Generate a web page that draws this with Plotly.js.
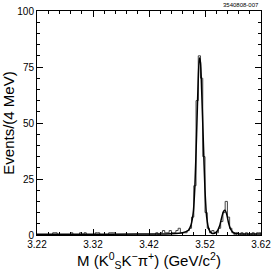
<!DOCTYPE html>
<html><head><meta charset="utf-8">
<script src="https://cdn.plot.ly/plotly-3.0.1.min.js"></script>
<style>html,body{margin:0;padding:0;background:#fff}#c{width:274px;height:274px}</style>
</head><body><div id="c"></div>
<script>
// Histogram: 4 MeV bins starting at 3.22 GeV
const binStart = 3.22;
const binWidth = 0.004;
const counts = [
 0,0,0,0,0,0,0,1,1,0,
 0,0,0,0,0,1,0,0,0,1,
 0,1,0,0,0,0,1,1,0,0,
 0,0,1,1,1,0,0,0,0,0,
 0,0,0,0,0,0,0,0,0,0,
 0,0,0,1,0,1,2,1,1,2,
 1,1,2,3,1,1,1,2,3,8,
 22,60,80,70,35,10,3,1,2,1,
 1,3,6,10,15,8,3,1,0,1,
 0,1,0,1,0,0,1,0,1,1
];
// Fit curve
const fitX = [3.22,3.30,3.40,3.46,3.48,3.49,3.495,3.499,3.502,3.505,3.508,3.510,3.512,3.514,3.517,3.520,3.523,3.527,3.532,3.537,3.542,3.546,3.550,3.553,3.556,3.559,3.562,3.566,3.571,3.58,3.60,3.62];
const fitY = [0.3,0.3,0.4,0.6,1.0,2.0,4.5,10,22,45,70,79,77,65,42,20,8,2.5,0.8,0.8,1.8,4,8,10.5,11,9,5.5,2.5,1,0.5,0.4,0.4];
const xTicks = [3.22,3.32,3.42,3.52,3.62];
const yTicks = [0,25,50,75,100];
const figLabel = "3540808-007";

const hx = [], hy = [];
hx.push(binStart); hy.push(0);
for (let i = 0; i < counts.length; i++) { hx.push(binStart + i*binWidth); hy.push(counts[i]); }
hx.push(binStart + counts.length*binWidth); hy.push(0);

const traces = [
 {x: hx, y: hy, type:'scatter', mode:'lines', line:{shape:'hv', color:'#444', width:1}, hoverinfo:'skip'},
 {x: fitX, y: fitY, type:'scatter', mode:'lines', line:{shape:'spline', smoothing:0.6, color:'#000', width:1.5}, hoverinfo:'skip'}
];
const font = {family:'Liberation Sans, Arial, sans-serif', color:'#000'};
const layout = {
 width:274, height:274,
 margin:{l:37, r:13, t:11, b:39},
 paper_bgcolor:'#fff', plot_bgcolor:'#fff',
 showlegend:false,
 font: Object.assign({size:10}, font),
 xaxis:{range:[3.22,3.62], tickvals:xTicks, ticktext:xTicks.map(v=>v.toFixed(2)),
   ticks:'inside', ticklen:6, tickcolor:'#000', tickwidth:1,
   showline:true, linecolor:'#000', linewidth:1, mirror:'allticks', showgrid:false, zeroline:false,
   minor:{ticks:'inside', dtick:0.02, tick0:3.22, ticklen:3, tickcolor:'#000', showgrid:false},
   tickfont:{size:10},
   title:{text:'M (K<sup>0</sup><sub>S</sub>K<sup>−</sup>π<sup>+</sup>) (GeV/c<sup>2</sup>)', font:{size:15}, standoff:3}},
 yaxis:{range:[0,100], tickvals:yTicks, ticks:'inside', ticklen:6, tickcolor:'#000', tickwidth:1,
   showline:true, linecolor:'#000', linewidth:1, mirror:'allticks', showgrid:false, zeroline:false,
   minor:{ticks:'inside', dtick:5, ticklen:3, tickcolor:'#000', showgrid:false},
   tickfont:{size:10},
   title:{text:'Events/(4 MeV)', font:{size:15}, standoff:2}},
 annotations:[{text:figLabel, xref:'paper', yref:'paper', x:1, y:1, xanchor:'right', yanchor:'bottom', yshift:1, showarrow:false, font:{size:6}}]
};
Plotly.newPlot('c', traces, layout, {staticPlot:true, displayModeBar:false});
</script></body></html>
